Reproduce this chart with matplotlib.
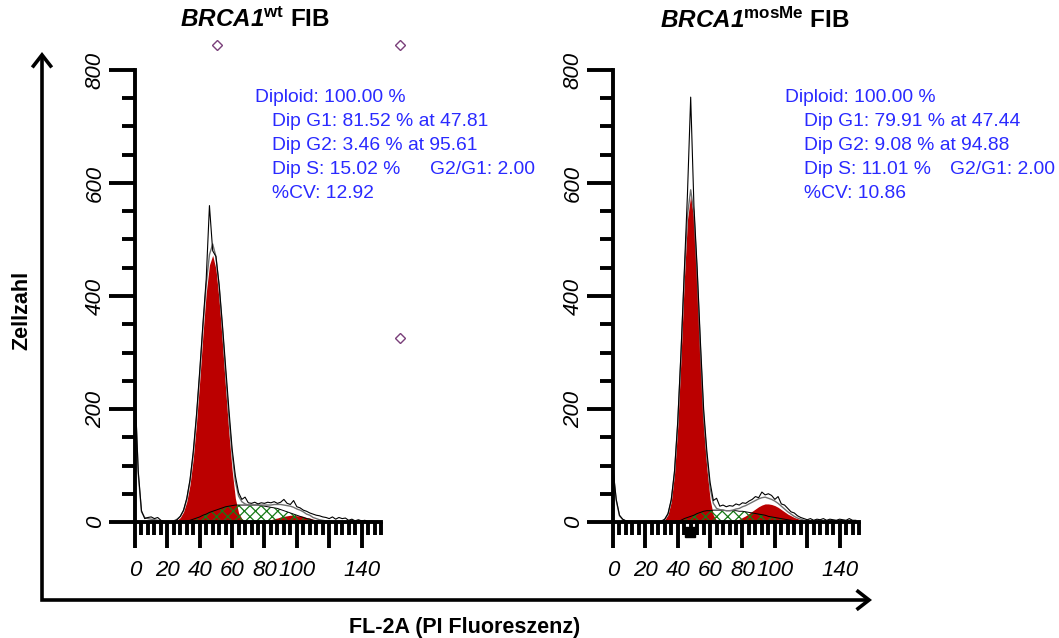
import numpy as np
import matplotlib.pyplot as plt
from matplotlib.ticker import MultipleLocator, FixedLocator, FixedFormatter
from matplotlib.patches import FancyArrowPatch
from matplotlib.path import Path

plt.rcParams['font.family'] = ['Liberation Sans', 'DejaVu Sans']
plt.rcParams['mathtext.fontset'] = 'custom'
plt.rcParams['mathtext.it'] = 'Liberation Sans:italic:bold'
plt.rcParams['mathtext.bf'] = 'Liberation Sans:bold'
plt.rcParams['mathtext.rm'] = 'Liberation Sans:italic:bold'
plt.rcParams['hatch.linewidth'] = 0.9

# channel grid (FL-2A), every 2nd channel
channels = np.arange(0, 152, 2)

# ---- BRCA1 wt ----
wt_raw = [235, 90, 20, 6, 8, 9, 6, 8, 3, 1,
          0, 0, 1, 4, 10, 21, 42, 75, 125, 190,
          268, 352, 430, 560, 480, 470, 420, 350, 275, 200,
          130, 82, 52, 40, 44, 34, 33, 35, 32, 34,
          33, 35, 34, 36, 33, 35, 40, 33, 31, 38,
          27, 25, 21, 19, 16, 14, 12, 11, 9, 8,
          6, 9, 5, 8, 6, 7, 3, 5, 2, 4,
          2, 3, 1, 2, 1, 1]
wt_model = [225, 85, 18, 8, 6, 5, 4, 3, 2, 1,
            1, 1, 2, 5, 10, 20, 40, 72, 119, 184,
            261, 345, 420, 473, 492, 470, 415, 343, 263, 186,
            121, 72, 46, 36, 32, 30, 30, 30, 30, 30,
            30, 30, 30, 31, 31, 31, 30, 29, 28, 26,
            23, 21, 18, 14, 12, 8, 6, 4, 3, 2,
            2, 1, 1, 1, 1, 1, 1, 1, 1, 1,
            1, 1, 1, 1, 1, 1]
wt_g1 = [0, 0, 0, 0, 0, 0, 0, 0, 0, 0,
         0, 0, 0, 3, 8, 18, 36, 66, 112, 175,
         250, 332, 405, 455, 472, 448, 392, 318, 236, 158,
         92, 42, 16, 6, 2, 0, 0, 0, 0, 0,
         0, 0, 0, 0, 0, 0, 0, 0, 0, 0,
         0, 0, 0, 0, 0, 0, 0, 0, 0, 0,
         0, 0, 0, 0, 0, 0, 0, 0, 0, 0,
         0, 0, 0, 0, 0, 0]
wt_s = [0, 0, 0, 0, 0, 0, 0, 0, 0, 0,
        0, 0, 0, 0, 0, 1, 2, 3, 5, 7,
        9, 12, 14, 17, 19, 21, 23, 25, 27, 28,
        29, 30, 30, 30, 30, 30, 30, 30, 30, 29,
        28, 27, 26, 25, 24, 22, 20, 18, 16, 14,
        12, 10, 8, 6, 5, 3, 2, 1, 0, 0,
        0, 0, 0, 0, 0, 0, 0, 0, 0, 0,
        0, 0, 0, 0, 0, 0]
wt_g2 = [0, 0, 0, 0, 0, 0, 0, 0, 0, 0,
         0, 0, 0, 0, 0, 0, 0, 0, 0, 0,
         0, 0, 0, 0, 0, 0, 0, 0, 0, 0,
         0, 0, 0, 0, 0, 0, 0, 0, 0, 1,
         2, 3, 4, 6, 7, 9, 10, 11, 12, 12,
         11, 11, 10, 8, 7, 5, 4, 3, 2, 1,
         1, 0, 0, 0, 0, 0, 0, 0, 0, 0,
         0, 0, 0, 0, 0, 0]

# ---- BRCA1 mosMe ----
mos_raw = [95, 40, 12, 5, 2, 1, 1, 0, 0, 0,
           0, 0, 0, 0, 0, 1, 5, 15, 40, 90,
           178, 300, 440, 580, 752, 560, 450, 320, 200, 125,
           70, 38, 42, 28, 30, 27, 29, 28, 32, 30,
           34, 33, 37, 40, 45, 43, 53, 48, 50, 47,
           40, 45, 32, 30, 24, 18, 16, 11, 8, 6,
           4, 6, 3, 5, 4, 6, 3, 5, 4, 3,
           5, 4, 3, 6, 3, 3]
mos_model = [90, 38, 11, 4, 2, 1, 1, 1, 1, 1,
             1, 1, 1, 1, 1, 2, 5, 14, 37, 86,
             171, 293, 431, 543, 588, 547, 440, 307, 188, 115,
             60, 33, 24, 22, 21, 20, 20, 21, 23, 24,
             27, 29, 32, 35, 38, 41, 43, 44, 42, 40,
             37, 33, 28, 23, 18, 14, 10, 7, 5, 3,
             2, 1, 1, 1, 1, 1, 1, 1, 1, 1,
             1, 1, 1, 1, 1, 1]
mos_g1 = [0, 0, 0, 0, 0, 0, 0, 0, 0, 0,
          0, 0, 0, 0, 0, 1, 4, 13, 36, 85,
          169, 290, 425, 535, 578, 535, 425, 290, 169, 95,
          40, 12, 3, 1, 0, 0, 0, 0, 0, 0,
          0, 0, 0, 0, 0, 0, 0, 0, 0, 0,
          0, 0, 0, 0, 0, 0, 0, 0, 0, 0,
          0, 0, 0, 0, 0, 0, 0, 0, 0, 0,
          0, 0, 0, 0, 0, 0]
mos_s = [0, 0, 0, 0, 0, 0, 0, 0, 0, 0,
         0, 0, 0, 0, 0, 0, 0, 0, 0, 1,
         2, 3, 6, 8, 10, 12, 15, 17, 19, 20,
         20, 21, 21, 21, 21, 20, 20, 20, 20, 19,
         19, 18, 17, 16, 15, 14, 13, 12, 10, 9,
         8, 7, 6, 5, 4, 3, 2, 1, 1, 0,
         0, 0, 0, 0, 0, 0, 0, 0, 0, 0,
         0, 0, 0, 0, 0, 0]
mos_g2 = [0, 0, 0, 0, 0, 0, 0, 0, 0, 0,
          0, 0, 0, 0, 0, 0, 0, 0, 0, 0,
          0, 0, 0, 0, 0, 0, 0, 0, 0, 0,
          0, 0, 0, 0, 0, 0, 0, 1, 3, 5,
          8, 11, 15, 19, 23, 27, 30, 32, 32, 31,
          29, 26, 22, 18, 14, 11, 8, 6, 4, 2,
          1, 0, 0, 0, 0, 0, 0, 0, 0, 0,
          0, 0, 0, 0, 0, 0]

x_major = [0, 20, 40, 60, 80, 100, 120, 140]
x_labels = ['0', '20', '40', '60', '80', '100', '', '140']
y_major = [0, 200, 400, 600, 800]

wt_stats = ['Diploid: 100.00 %', 'Dip G1: 81.52 % at 47.81', 'Dip G2: 3.46 % at 95.61',
            'Dip S: 15.02 %', '%CV: 12.92']
mos_stats = ['Diploid: 100.00 %', 'Dip G1: 79.91 % at 47.44', 'Dip G2: 9.08 % at 94.88',
             'Dip S: 11.01 %', '%CV: 10.86']
ratio_text = 'G2/G1: 2.00'

# gate markers seen on the wt panel (channel, count)
gate_x = [50.6, 163.7, 163.7]
gate_y = [845, 845, 325]

RED = '#bb0000'
GREEN = '#167a16'
BLUE = '#2a2aff'

W, H = 1059, 638
fig = plt.figure(figsize=(W / 100, H / 100), dpi=100)


def panel(left_px, raw, model, g1, s, g2):
    ax = fig.add_axes([left_px / W, 1 - 522 / H, 246 / W, 452 / H])
    ax.fill_between(channels, g1, color=RED, lw=0, zorder=1)
    ax.fill_between(channels, g2, color=RED, lw=0, zorder=1)
    ax.fill_between(channels, s, facecolor='none', hatch='xxx', edgecolor=GREEN, lw=0, zorder=1.2)
    ax.plot(channels, s, color='black', lw=0.7, zorder=1.5)
    ax.plot(channels, model, color='#707070', lw=1.0, zorder=1.6)
    ax.plot(channels, raw, color='black', lw=0.8, zorder=1.7)

    ax.set_xlim(0, 152)
    ax.set_ylim(0, 800)
    for side in ['top', 'right']:
        ax.spines[side].set_visible(False)
    for side in ['left', 'bottom']:
        ax.spines[side].set_linewidth(2.8)
    ax.xaxis.set_major_locator(FixedLocator(x_major))
    ax.xaxis.set_major_formatter(FixedFormatter(x_labels))
    ax.xaxis.set_minor_locator(MultipleLocator(4))
    ax.yaxis.set_major_locator(FixedLocator(y_major))
    ax.yaxis.set_minor_locator(MultipleLocator(50))
    ax.tick_params(which='major', direction='out', length=19, width=2.8)
    ax.tick_params(which='minor', direction='out', length=9.5, width=2.8)
    ax.tick_params(axis='x', which='major', pad=8)
    ax.tick_params(axis='y', which='major', pad=2)
    for lab in ax.get_xticklabels():
        lab.set_fontsize(16)
        lab.set_fontstyle('italic')
    for lab in ax.get_yticklabels():
        lab.set_fontsize(16)
        lab.set_fontstyle('italic')
        lab.set_rotation(90)
        lab.set_va('center')
    ax.patch.set_alpha(0)
    return ax


ax1 = panel(135, wt_raw, wt_model, wt_g1, wt_s, wt_g2)
ax2 = panel(613, mos_raw, mos_model, mos_g1, mos_s, mos_g2)

ax1.plot(gate_x, gate_y, ls='none', marker='D', ms=5, mfc='white', mec='#7a3f7a',
         mew=1, clip_on=False, zorder=5)
ax2.plot([47.44], [-18], ls='none', marker='s', ms=7, color='black', clip_on=False, zorder=5)


def stats(x_px, x_ind_px, x_ratio_px, lines):
    ys = [97, 121, 145, 169, 193]
    for i, (t, y) in enumerate(zip(lines, ys)):
        xp = x_px if i == 0 else x_ind_px
        fig.text(xp / W, 1 - y / H, t, color=BLUE, fontsize=13.9, va='center', ha='left')
    fig.text(x_ratio_px / W, 1 - ys[3] / H, ratio_text, color=BLUE, fontsize=13.9,
             va='center', ha='left')


stats(255, 272, 430, wt_stats)
stats(785, 804, 950, mos_stats)

fig.text(255 / W, 1 - 20 / H, r'$\mathit{BRCA1}^{\mathbf{wt}}$ FIB', fontsize=17.5,
         fontweight='bold', ha='center', va='center')
fig.text(755 / W, 1 - 20 / H, r'$\mathit{BRCA1}^{\mathbf{mosMe}}$ FIB', fontsize=17.5,
         fontweight='bold', ha='center', va='center')

fig.text(22 / W, 1 - 310 / H, 'Zellzahl', rotation=90, fontsize=15.5, fontweight='bold',
         ha='center', va='center')
fig.text(465 / W, 1 - 627 / H, 'FL-2A (PI Fluoreszenz)', fontsize=15.5, fontweight='bold',
         ha='center', va='center')

# outer L-shaped axis with arrow heads
frame = Path([(42 / W, 1 - 52 / H), (42 / W, 1 - 600 / H), (872 / W, 1 - 600 / H)])
arrow = FancyArrowPatch(path=frame, arrowstyle='<->,head_length=0.45,head_width=0.35',
                        mutation_scale=20, lw=2.6, color='black', transform=fig.transFigure,
                        joinstyle='miter', capstyle='butt')
fig.add_artist(arrow)

fig.savefig('out.png', dpi=100)
